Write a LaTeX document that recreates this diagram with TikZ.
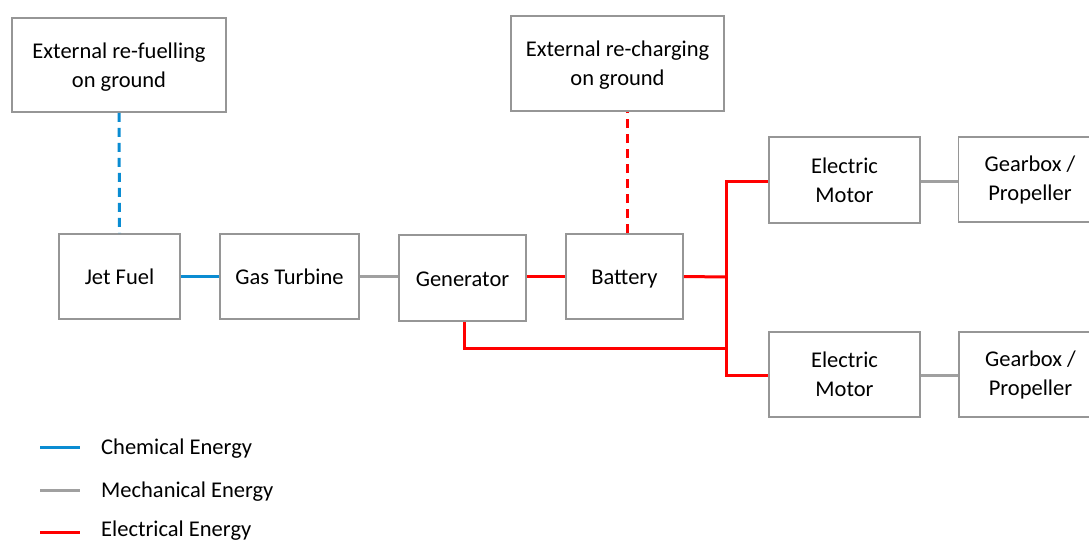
\documentclass[tikz,border=0pt]{standalone}
\usepackage{fontspec}
\setmainfont{Carlito}
\usetikzlibrary{positioning}

\definecolor{chemblue}{RGB}{10,140,210}
\definecolor{mechgray}{RGB}{160,160,160}
\definecolor{elecred}{RGB}{255,0,0}
\definecolor{boxgray}{RGB}{150,150,150}

\begin{document}
\begin{tikzpicture}[x=1pt,y=-1pt,
        unitbox/.style={draw=boxgray,line width=1.8pt,align=center,inner sep=0pt,
                        font=\fontsize{22.5}{29}\selectfont},
        onebox/.style={unitbox,text height=18pt,text depth=2pt},
        keytext/.style={anchor=west,inner sep=0pt,font=\fontsize{22.5}{29}\selectfont},
        chemline/.style={chemblue,line width=3pt},
        mechline/.style={mechgray,line width=3pt},
        elecline/.style={elecred,line width=3pt}]
        \useasboundingbox (0,0) rectangle (1089,541);

        \node[unitbox,minimum width=214pt,minimum height=94pt,text depth=0pt] (refuel) at (119,65)
              {External re-fuelling\\on ground};
        \node[unitbox,minimum width=213pt,minimum height=95pt,text depth=0pt] (recharge) at (617.5,63.5)
              {External re-charging\\on ground};
        \node[onebox,minimum width=121pt,minimum height=85pt] (jetfuel) at (119.5,276.5) {Jet Fuel};
        \node[onebox,minimum width=139pt,minimum height=85pt] (turbine) at (289.5,276.5) {Gas Turbine};
        \node[onebox,minimum width=127pt,minimum height=86pt] (generator) at (462.5,278) {Generator};
        \node[onebox,minimum width=117pt,minimum height=85pt] (battery) at (624.5,276.5) {Battery};
        \node[unitbox,minimum width=151pt,minimum height=86pt] (motorA) at (844.5,180) {Electric\\Motor};
        \node[unitbox,minimum width=143pt,minimum height=85pt] (gearA) at (1030,179.5) {Gearbox /\\Propeller};
        \node[unitbox,minimum width=151pt,minimum height=85pt] (motorB) at (844.5,374.5) {Electric\\Motor};
        \node[unitbox,minimum width=143pt,minimum height=85pt] (gearB) at (1030.5,374.5) {Gearbox /\\Propeller};

        \coordinate (charge x) at (627,0);
        \coordinate (bus top) at (726,181);
        \coordinate (bus mid) at (726,277);
        \coordinate (bus bottom) at (726,375);
        \coordinate (gen drop) at (464,348);

        \draw[chemline,dash pattern=on 9pt off 6pt] (refuel.south) -- (jetfuel.north);
        \draw[elecline,dash pattern=on 9pt off 6pt] (battery.north -| charge x) -- (recharge.south -| charge x);
        \draw[chemline] (jetfuel) -- (turbine);
        \draw[mechline] (turbine.east) -- (generator.west |- turbine.east);
        \draw[elecline] (generator.east |- battery.west) -- (battery.west);
        \draw[elecline] (battery.east) -- (bus mid);
        \draw[elecline] (motorA.west |- bus top) -- (bus top) -- (bus bottom) -- (motorB.west |- bus bottom);
        \draw[elecline] (generator.south -| gen drop) -- (gen drop) -- (gen drop -| bus top);
        \draw[mechline] (motorA.east |- bus top) -- (gearA.west |- bus top);
        \draw[mechline] (motorB.east |- bus bottom) -- (gearB.west |- bus bottom);

        % legend
        \node[keytext] (chemkey) at (101,449) {Chemical Energy};
        \node[keytext] (mechkey) at (101,492) {Mechanical Energy};
        \node[keytext] (eleckey) at (101,531) {Electrical Energy};
        \coordinate (chemstart) at (40,447);
        \coordinate (mechstart) at (40,490);
        \coordinate (elecstart) at (40,532);
        \draw[chemline] (chemstart) -- ++(40,0);
        \draw[mechline] (mechstart) -- ++(40,0);
        \draw[elecline] (elecstart) -- ++(40,0);
    \end{tikzpicture}
\end{document}
